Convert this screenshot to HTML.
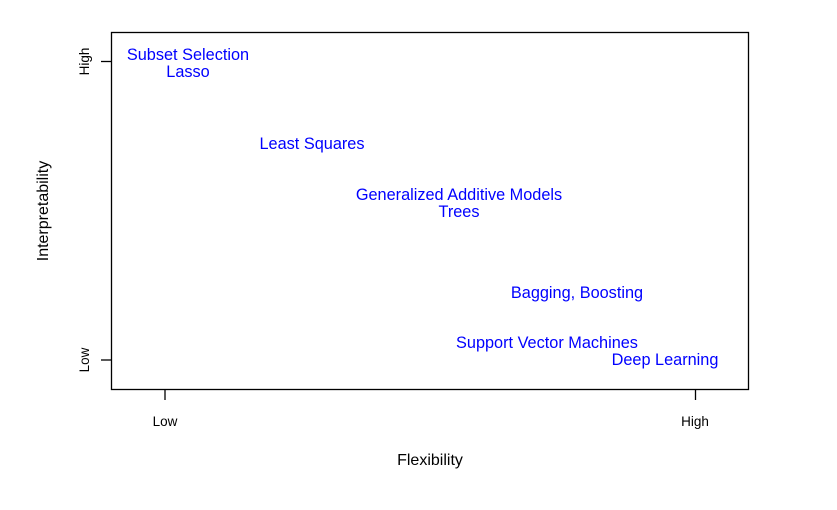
<!DOCTYPE html>
<html><head><meta charset="utf-8"><style>html,body{margin:0;padding:0;background:#fff}</style></head>
<body>
<svg width="837" height="505" xmlns="http://www.w3.org/2000/svg" font-family="Liberation Sans, Arial, sans-serif">
<rect x="111.5" y="32.5" width="637" height="357" fill="none" stroke="#000" stroke-width="1.3"/>
<line x1="101" y1="61.5" x2="111" y2="61.5" stroke="#000" stroke-width="1.3"/>
<line x1="101" y1="360" x2="111" y2="360" stroke="#000" stroke-width="1.3"/>
<line x1="165" y1="390" x2="165" y2="400" stroke="#000" stroke-width="1.3"/>
<line x1="695.5" y1="390" x2="695.5" y2="400" stroke="#000" stroke-width="1.3"/>
<g font-size="13.5" fill="#000" text-anchor="middle">
<text x="165" y="426">Low</text>
<text x="695" y="426">High</text>
<text transform="translate(89,61.5) rotate(-90)">High</text>
<text transform="translate(89,360) rotate(-90)">Low</text>
</g>
<g font-size="16" fill="#000" text-anchor="middle">
<text x="430" y="465">Flexibility</text>
<text transform="translate(48,211) rotate(-90)">Interpretability</text>
</g>
<g font-size="16.3" fill="#0000ff" text-anchor="middle">
<text x="188" y="60">Subset Selection</text>
<text x="188" y="77">Lasso</text>
<text x="312" y="149">Least Squares</text>
<text x="459" y="200">Generalized Additive Models</text>
<text x="459" y="217">Trees</text>
<text x="577" y="298">Bagging, Boosting</text>
<text x="547" y="348">Support Vector Machines</text>
<text x="665" y="365">Deep Learning</text>
</g>
</svg>
</body></html>
